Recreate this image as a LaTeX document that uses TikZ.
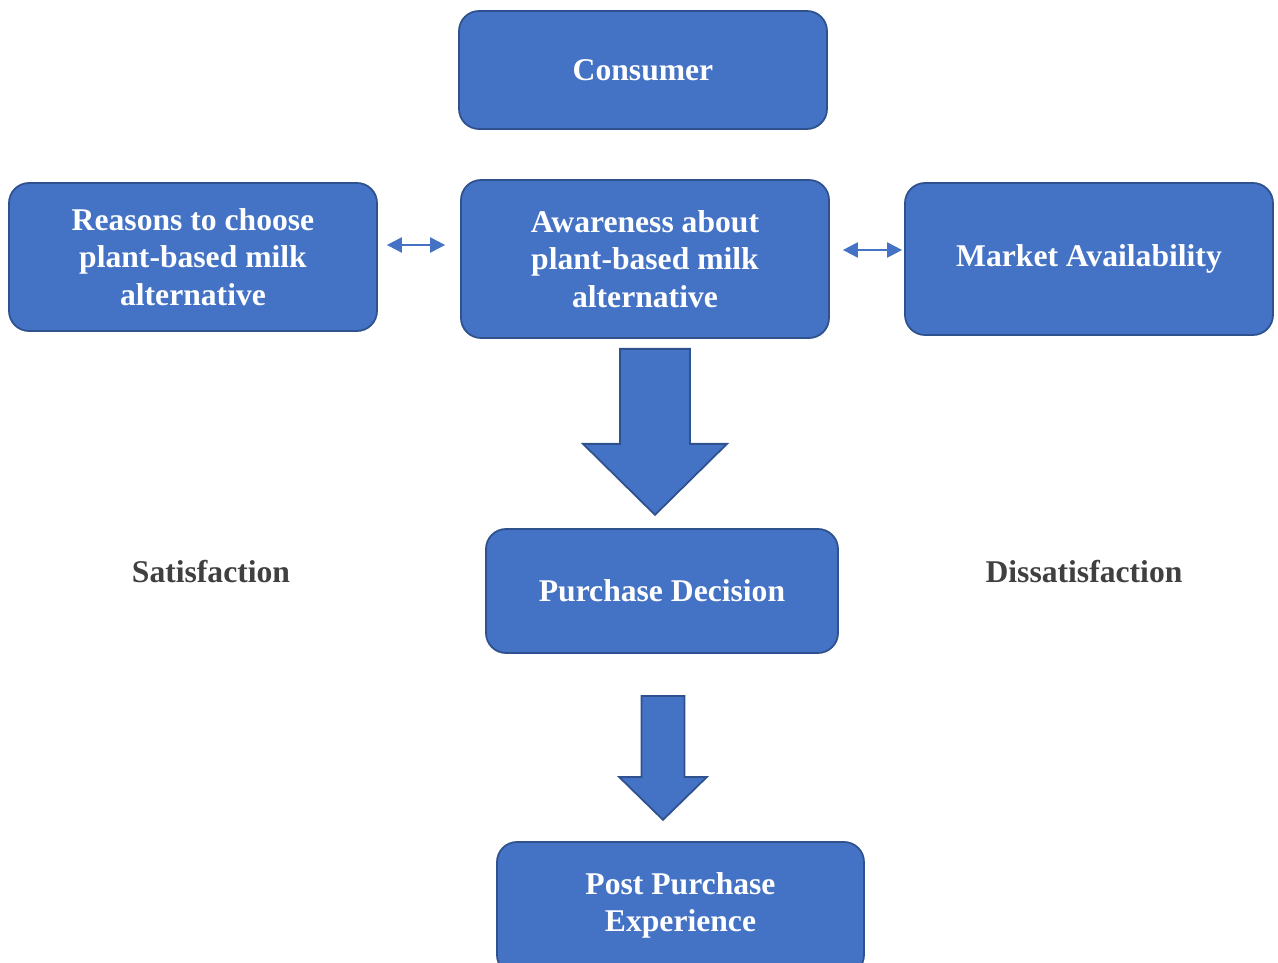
\documentclass[tikz,border=0pt]{standalone}
\usepackage{fontspec}
\setmainfont{Liberation Serif}
\usepackage{xcolor}
\definecolor{boxblue}{HTML}{4472C4}
\definecolor{boxedge}{HTML}{2F528F}
\definecolor{labgray}{HTML}{404040}
\usetikzlibrary{arrows.meta,positioning,calc}

\begin{document}
\begin{tikzpicture}[
  sbox/.style={rectangle, rounded corners=0.4cm, draw=boxedge, line width=1pt,
               fill=boxblue, text=white, align=center,
               font=\fontsize{18}{21.5}\selectfont\bfseries},
  slabel/.style={text=labgray, font=\fontsize{18}{21.5}\selectfont\bfseries},
  blkarr/.style={draw=boxedge, line width=1pt, fill=boxblue, line join=miter},
  dblarr/.style={{Triangle[length=0.3cm,width=0.3cm]}-{Triangle[length=0.3cm,width=0.3cm]},
                 draw=boxblue, line width=1.2pt}
]
\useasboundingbox (0,0) rectangle (25.56,-19.26);

% Boxes
\node[sbox, minimum width=7.36cm, minimum height=2.36cm] (cons)   at (12.86,-1.40)  {Consumer};
\node[sbox, minimum width=7.36cm, minimum height=2.96cm] (reason) at (3.86,-5.14)   {Reasons to choose\\plant-based milk\\alternative};
\node[sbox, minimum width=7.36cm, minimum height=3.16cm] (aware)  at (12.90,-5.18)  {Awareness about\\plant-based milk\\alternative};
\node[sbox, minimum width=7.36cm, minimum height=3.04cm] (market) at (21.78,-5.18)  {Market Availability};
\node[sbox, minimum width=7.04cm, minimum height=2.48cm] (decide) at (13.24,-11.82) {Purchase Decision};
\node[sbox, minimum width=7.34cm, minimum height=2.66cm] (post)   at (13.61,-18.17) {};
\node[text=white, align=center, font=\fontsize{18}{21.5}\selectfont\bfseries]
  (posttext) at ([yshift=0.06cm]post.center) {Post Purchase\\Experience};

% Side labels
\node[slabel] (sat)   at (4.22,-11.44)  {Satisfaction};
\node[slabel] (dissat) at (21.68,-11.44) {Dissatisfaction};

% Double arrows
\draw[dblarr, shorten <=0.18cm, shorten >=0.3cm]
  ([yshift=0.24cm]reason.east) -- ([yshift=0.24cm]reason.east -| aware.west);
\draw[dblarr, shorten <=0.26cm, shorten >=0.04cm]
  ([yshift=0.18cm]aware.east) -- ([yshift=0.18cm]aware.east -| market.west);

% Block arrows
\coordinate (a1) at ([xshift=0.2cm,yshift=-0.2cm]aware.south);
\draw[blkarr] (a1) ++(-0.7,0) -- ++(0,-1.9) -- ++(-0.74,0) -- ++(1.44,-1.42)
  -- ++(1.44,1.42) -- ++(-0.74,0) -- ++(0,1.9) -- cycle;
\coordinate (a2) at ([xshift=0.02cm,yshift=-0.84cm]decide.south);
\draw[blkarr] (a2) ++(-0.43,0) -- ++(0,-1.62) -- ++(-0.45,0) -- ++(0.88,-0.86)
  -- ++(0.88,0.86) -- ++(-0.45,0) -- ++(0,1.62) -- cycle;
\end{tikzpicture}
\end{document}
